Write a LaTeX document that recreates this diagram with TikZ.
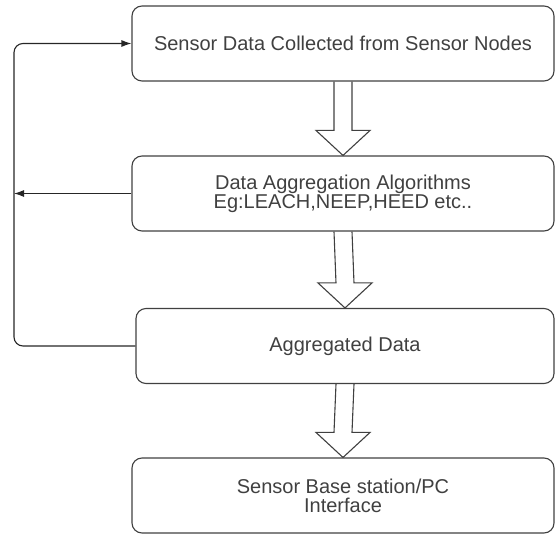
\documentclass[tikz,border=0pt]{standalone}
\usepackage{fontspec}
\setmainfont{Liberation Sans}
\usetikzlibrary{arrows.meta,calc}

% hollow block arrow from the bottom of #1 to the top of #2
\newcommand{\blockarrow}[2]{%
  \draw[blockarr] ($(#1.south)+(-9,0)$) -- ($(#2.north)+(-9,-25)$) -- ($(#2.north)+(-27,-25)$)
    -- (#2.north) -- ($(#2.north)+(27,-25)$) -- ($(#2.north)+(9,-25)$) -- ($(#1.south)+(9,0)$);}

\begin{document}
\begin{tikzpicture}[x=1pt,y=-1pt,
    box/.style={draw=black!75, line width=1.1pt, rounded corners=10pt, minimum width=422pt,
      minimum height=75pt, align=center, text=black!75, font=\fontsize{20}{19}\selectfont},
    blockarr/.style={draw=black!75, line width=1.1pt, line join=miter},
    conn/.style={draw=black!85, line width=1.1pt, >={Latex[length=10pt,width=7pt]}}]
  \useasboundingbox (0,0) rectangle (555,534);

  \node[box] (collect) at (343,43.5) {Sensor Data Collected from Sensor Nodes};
  \node[box] (algo) at (343,193.5) {Data Aggregation Algorithms\\Eg:LEACH,NEEP,HEED etc..};
  \node[box, minimum width=418pt] (aggr) at (345,346) {Aggregated Data};
  \node[box] (base) at (343,495.5) {Sensor Base station/PC\\Interface};

  \blockarrow{collect}{algo}
  \blockarrow{algo}{aggr}
  \blockarrow{aggr}{base}

  % feedback loop on the left
  \coordinate (loop) at (14,200);
  \draw[conn, ->, rounded corners=9pt] (aggr.west) -| (loop) |- (collect.west);
  \draw[conn, ->] (algo.west) -- (loop |- algo.west);
\end{tikzpicture}
\end{document}
